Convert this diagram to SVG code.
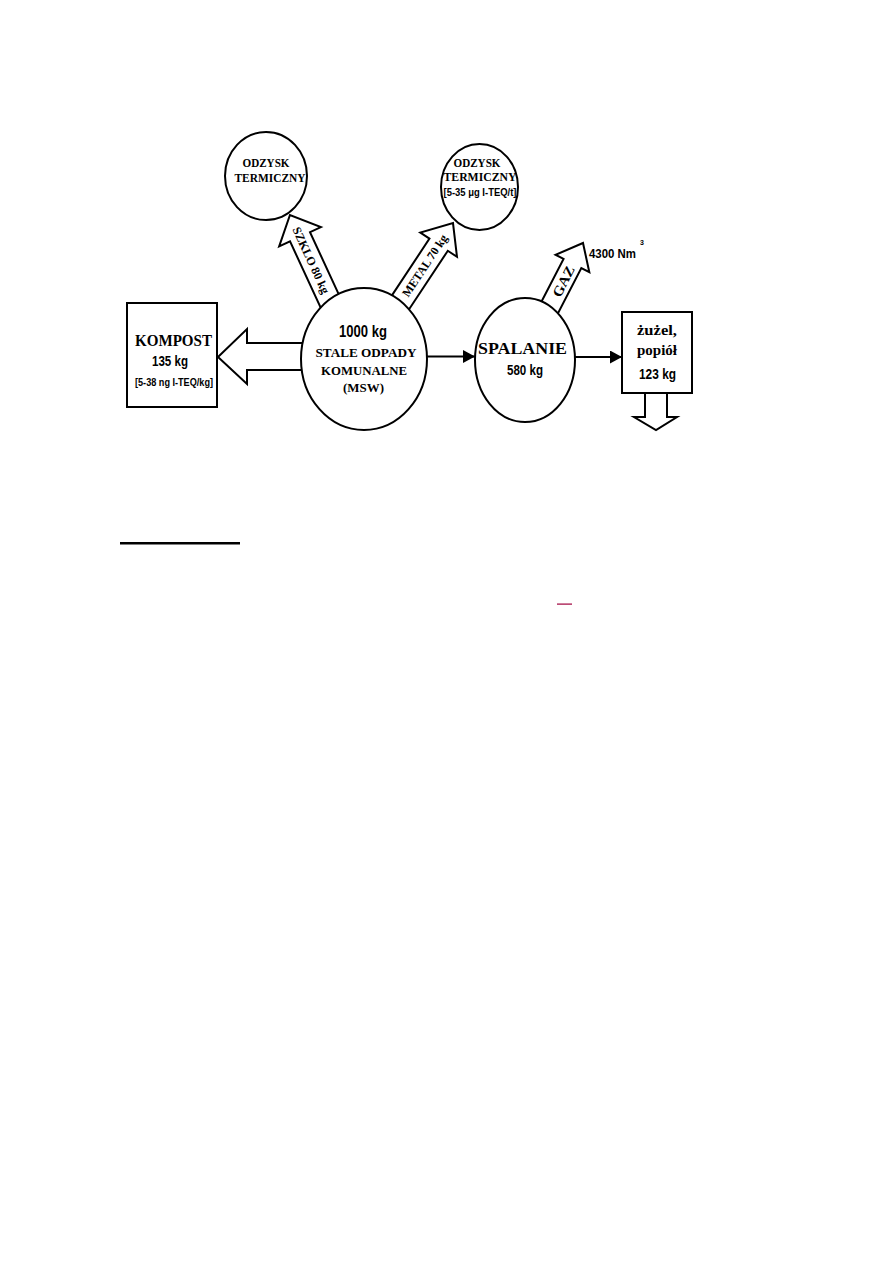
<svg xmlns="http://www.w3.org/2000/svg" width="893" height="1263" viewBox="0 0 893 1263">
<style>
.shape{fill:#fff;stroke:#000;stroke-width:2}
.hollow{fill:#fff;stroke:#000;stroke-width:2;stroke-linejoin:miter}
.line{fill:none;stroke:#000;stroke-width:2}
.serif{font-family:"Liberation Serif","Times New Roman",serif;font-weight:bold;fill:#000}
.sans{font-family:"Liberation Sans Narrow","Liberation Sans",Arial,sans-serif;font-weight:bold;fill:#000}
</style>
<defs>
<marker id="ah" viewBox="0 0 12 13" refX="12" refY="6.5" markerWidth="12" markerHeight="13" markerUnits="userSpaceOnUse" orient="auto">
<path d="M0,0 L12,6.5 L0,13 Z" fill="#000"/>
</marker>
</defs>
<rect width="893" height="1263" fill="#fff"/>

<g id="connectors">
<!-- SZKLO arrow -->
<g transform="translate(334,310.3) rotate(-114.8)">
<polygon class="hollow" points="0,-11 81,-11 81,-23 105,0 81,23 81,11 0,11"/>
<text class="serif" font-size="12" text-anchor="middle" transform="translate(55,0) rotate(180)" y="4" textLength="72" lengthAdjust="spacingAndGlyphs">SZKLO 80 kg</text>
</g>
<!-- METAL arrow -->
<g transform="translate(397.8,306.4) rotate(-56.5)">
<polygon class="hollow" points="0,-11 74,-11 74,-22 100,0 74,22 74,11 0,11"/>
<text class="serif" font-size="12" text-anchor="middle" x="49" y="4" textLength="72" lengthAdjust="spacingAndGlyphs">METAL 70 kg</text>
</g>
<!-- GAZ arrow -->
<g transform="translate(546.3,314.1) rotate(-62.7)">
<polygon class="hollow" points="0,-10 57,-10 57,-19 80,0 57,19 57,10 0,10"/>
<text class="serif" font-size="14" text-anchor="middle" x="37" y="5" textLength="33" lengthAdjust="spacingAndGlyphs">GAZ</text>
</g>
<!-- KOMPOST big hollow arrow -->
<polygon class="hollow" points="312,343 247,343 247,329 218,357 247,384 247,370 312,370"/>
<!-- MSW -> SPALANIE -->
<line class="line" x1="427" y1="356.5" x2="475" y2="356.5" marker-end="url(#ah)"/>
<!-- SPALANIE -> zuzel -->
<line class="line" x1="575" y1="357" x2="622" y2="357" marker-end="url(#ah)"/>
<!-- down arrow -->
<polygon class="hollow" points="645,392 645,417 634,417 656,430 677,417 667,417 667,392"/>
</g>

<g id="odzysk1">
<ellipse class="shape" cx="266" cy="176" rx="41" ry="44"/>
<text class="serif" font-size="12" text-anchor="middle" x="266" y="166.5" textLength="47" lengthAdjust="spacingAndGlyphs">ODZYSK</text>
<text class="serif" font-size="12" text-anchor="middle" x="270" y="181.5" textLength="71" lengthAdjust="spacingAndGlyphs">TERMICZNY</text>
</g>

<g id="odzysk2">
<ellipse class="shape" cx="479.5" cy="187" rx="38.5" ry="43"/>
<text class="serif" font-size="12" text-anchor="middle" x="477" y="166.5" textLength="47" lengthAdjust="spacingAndGlyphs">ODZYSK</text>
<text class="serif" font-size="12" text-anchor="middle" x="480" y="181" textLength="73" lengthAdjust="spacingAndGlyphs">TERMICZNY</text>
<text class="sans" font-size="11" font-weight="normal" text-anchor="middle" x="480" y="196" textLength="73" lengthAdjust="spacingAndGlyphs">[5-35 μg I-TEQ/t]</text>
</g>

<g id="msw">
<ellipse class="shape" cx="364" cy="359" rx="63" ry="71"/>
<text class="sans" font-size="16" text-anchor="middle" x="363" y="337" textLength="48" lengthAdjust="spacingAndGlyphs">1000 kg</text>
<text class="serif" font-size="13" text-anchor="middle" x="366" y="357" textLength="101" lengthAdjust="spacingAndGlyphs">STALE ODPADY</text>
<text class="serif" font-size="13" text-anchor="middle" x="364" y="375" textLength="86" lengthAdjust="spacingAndGlyphs">KOMUNALNE</text>
<text class="serif" font-size="13" text-anchor="middle" x="363.5" y="392" textLength="41" lengthAdjust="spacingAndGlyphs">(MSW)</text>
</g>

<g id="kompost">
<rect class="shape" x="127" y="303" width="90" height="104"/>
<text class="serif" font-size="16" text-anchor="middle" x="173.5" y="346" textLength="77" lengthAdjust="spacingAndGlyphs">KOMPOST</text>
<text class="sans" font-size="14" text-anchor="middle" x="170" y="366" textLength="36" lengthAdjust="spacingAndGlyphs">135 kg</text>
<text class="sans" font-size="11" font-weight="normal" text-anchor="middle" x="174" y="386" textLength="78" lengthAdjust="spacingAndGlyphs">[5-38 ng I-TEQ/kg]</text>
</g>

<g id="spalanie">
<ellipse class="shape" cx="525" cy="360" rx="50" ry="62"/>
<text class="serif" font-size="17.5" text-anchor="middle" x="522.5" y="354" textLength="89" lengthAdjust="spacingAndGlyphs">SPALANIE</text>
<text class="sans" font-size="14" text-anchor="middle" x="525" y="375" textLength="36" lengthAdjust="spacingAndGlyphs">580 kg</text>
</g>

<g id="gaz-label">
<text class="sans" font-size="13" x="589" y="258" textLength="47" lengthAdjust="spacingAndGlyphs">4300 Nm</text>
<text class="sans" font-size="7" font-weight="normal" x="640" y="245">3</text>
</g>

<g id="zuzel">
<rect class="shape" x="622" y="312" width="70" height="81"/>
<text class="serif" font-size="15" text-anchor="middle" x="657" y="335" textLength="40" lengthAdjust="spacingAndGlyphs">żużel,</text>
<text class="serif" font-size="15" text-anchor="middle" x="657" y="355" textLength="40" lengthAdjust="spacingAndGlyphs">popiół</text>
<text class="sans" font-size="14" text-anchor="middle" x="657.5" y="379" textLength="37" lengthAdjust="spacingAndGlyphs">123 kg</text>
</g>

<rect x="120" y="542" width="120" height="2.5" fill="#000"/>
<rect x="557" y="603.5" width="15" height="1.2" fill="#a0003c"/>
</svg>
